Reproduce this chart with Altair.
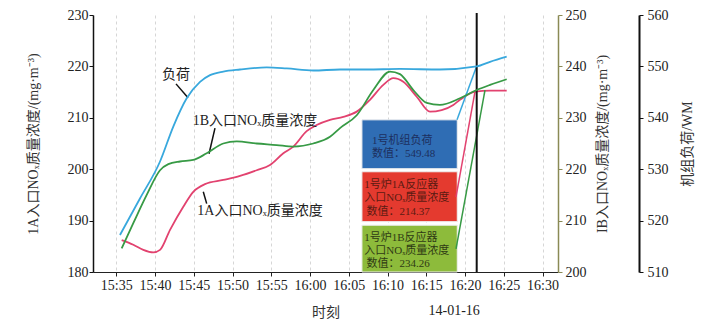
import altair as alt
import pandas as pd

# ---------------- data (time in minutes after 15:00) ----------------
load_t = [35.48, 38.06, 40.65, 42.36, 44.09, 45.81, 47.10, 48.81, 50.97, 54.41,
          57.0, 60.43, 63.87, 67.32, 71.61, 76.77, 81.51, 83.23, 85.38]
load_v = [517.2, 524.3, 531.5, 538.3, 543.8, 547.0, 548.3, 549.0, 549.4, 549.8,
          549.6, 549.2, 549.4, 549.4, 549.5, 549.4, 550.0, 550.9, 551.9]

a_t = [35.70, 37.2, 38.49, 39.78, 40.65, 41.94, 43.65, 44.94, 46.45, 48.81, 50.97,
       53.12, 54.84, 56.56, 57.85, 59.57, 60.86, 62.58, 64.30, 66.03, 67.74, 69.46,
       70.75, 72.04, 73.77, 75.48, 76.99, 78.49, 79.35, 81.29, 83.23, 85.38]
a_v = [186.2, 185.3, 184.3, 183.8, 184.3, 188.2, 192.7, 195.6, 197.1, 197.9, 198.7,
       199.8, 200.8, 203.1, 204.4, 207.4, 208.6, 209.6, 210.2, 211.2, 213.5, 216.4,
       217.7, 217.0, 214.1, 211.2, 211.5, 212.5, 213.5, 215.1, 215.3, 215.3]

b_t = [35.70, 37.2, 38.93, 40.65, 41.72, 43.23, 44.94, 46.67, 48.81, 50.54, 53.12,
       55.70, 57.85, 60.43, 62.58, 63.87, 66.03, 68.17, 70.32, 71.61, 73.33, 75.06,
       76.77, 79.35, 81.51, 83.23, 85.38]
b_v = [204.6, 209.5, 215.0, 219.8, 221.0, 221.5, 221.8, 223.1, 225.0, 225.4, 225.0,
       224.7, 224.4, 225.0, 226.3, 228.0, 230.5, 235.4, 239.0, 238.5, 235.4, 232.9,
       232.5, 233.8, 235.4, 236.4, 237.5]

x_ticks = [35, 40, 45, 50, 55, 60, 65, 70, 75, 80, 85, 90]
cursor_t = 81.51

# info boxes (left-axis units)
box_names = ["load", "A", "B"]
box_x0 = [66.7, 66.7, 66.7]
box_x1 = [79.0, 79.0, 79.0]
box_top = [209.6, 199.5, 189.1]
box_bot = [200.1, 189.8, 180.0]
box_fill = ["#2f6db4", "#e43a2f", "#8dbb3b"]

box_text = ["1号机组负荷", "数值：549.48",
            "1号炉1A反应器", "入口NOₓ质量浓度", "数值：214.37",
            "1号炉1B反应器", "入口NOₓ质量浓度", "数值：234.26"]
box_text_t = [68.0, 68.0, 67.0, 67.0, 67.3, 67.0, 67.0, 67.3]
box_text_v = [205.49, 202.86, 196.93, 194.30, 191.67, 186.71, 184.09, 181.46]
box_text_c = ["#1d2f5e", "#1d2f5e", "#5c1a12", "#5c1a12", "#5c1a12",
              "#2f3a14", "#2f3a14", "#2f3a14"]

# callouts from boxes to cursor values
call_t0 = [78.97, 78.84, 78.84]
call_v0 = [209.6, 194.6, 184.5]
call_t1 = [81.51, 81.29, 82.58]
call_v1 = [220.1, 215.1, 215.4]

# series labels
lab_text = ["负荷", "1B入口NOₓ质量浓度", "1A入口NOₓ质量浓度"]
lab_t = [42.71, 52.9, 53.55]
lab_v = [218.3, 209.4, 191.9]
lead_t0 = [42.71, 47.74, 46.67]
lead_v0 = [216.6, 208.0, 193.3]
lead_t1 = [44.26, 46.97, 46.23]
lead_v1 = [213.9, 203.0, 195.6]

C_LOAD = "#38a8dd"
C_A = "#e2426f"
C_B = "#379a45"
FONT = "'Liberation Serif', 'Noto Sans CJK SC', serif"

# ---------------- charts ----------------
xscale = alt.Scale(domain=[32, 92], nice=False, zero=False)
lab_expr = ("toString(15 + floor(datum.value/60)) + ':' + "
            "(datum.value % 60 < 10 ? '0' : '') + toString(datum.value % 60)")
xaxis = alt.Axis(values=x_ticks, labelExpr=lab_expr, grid=True, gridDash=[3, 3],
                 gridColor="#d6d6d6", gridWidth=1, title="时刻", titleY=40,
                 titleBaseline="middle", titleFont=FONT, titleFontSize=14,
                 titleFontWeight="normal", titleColor="#333", labelFont=FONT,
                 labelFontSize=14, labelColor="#222", domainColor="#222",
                 domainWidth=1.2, tickColor="#222", tickSize=4, labelPadding=2)
X = alt.X("t:Q", scale=xscale, axis=xaxis)
X2 = alt.X2("t1:Q")

yA = alt.Y("v:Q", scale=alt.Scale(domain=[180, 230], nice=False, zero=False),
           axis=alt.Axis(values=[180, 190, 200, 210, 220, 230], grid=False,
                         title="1A入口NOₓ质量浓度/(mg·m⁻³)", titleX=-60, titleY=128.5,
                         titleAngle=270, titleAlign="center", titleBaseline="middle",
                         titleFont=FONT, titleFontSize=14, titleFontWeight="normal",
                         titleColor="#333", labelFont=FONT, labelFontSize=14,
                         labelColor="#222", domainColor="#111", domainWidth=1.5,
                         tickColor="#111", tickSize=4, labelPadding=1))
Y2 = alt.Y2("v1:Q")

dfA = pd.DataFrame({"t": a_t, "v": a_v})
dfB = pd.DataFrame({"t": b_t, "v": b_v})
dfL = pd.DataFrame({"t": load_t, "v": load_v})

red = alt.Chart(dfA).mark_line(color=C_A, strokeWidth=1.8, interpolate="monotone").encode(x=X, y=yA)

boxes = alt.Chart(pd.DataFrame({"t": box_x0, "t1": box_x1, "v": box_top, "v1": box_bot,
                                "c": box_fill})).mark_rect(stroke="#eeeeee", strokeWidth=1).encode(
    x=X, x2=X2, y=yA, y2=Y2, fill=alt.Fill("c:N", scale=None))

btext = alt.Chart(pd.DataFrame({"t": box_text_t, "v": box_text_v, "s": box_text,
                                "c": box_text_c})).mark_text(
    align="left", baseline="middle", font=FONT, fontSize=11).encode(
    x=X, y=yA, text="s:N", color=alt.Color("c:N", scale=None))

calls = alt.Chart(pd.DataFrame({"t": call_t0, "v": call_v0, "t1": call_t1, "v1": call_v1,
                                "c": [C_LOAD, C_A, C_B]})).mark_rule(strokeWidth=1.5).encode(
    x=X, x2=X2, y=yA, y2=Y2, color=alt.Color("c:N", scale=None))

labels = alt.Chart(pd.DataFrame({"t": lab_t, "v": lab_v, "s": lab_text})).mark_text(
    align="center", baseline="middle", font=FONT, fontSize=14, color="#222").encode(
    x=X, y=yA, text="s:N")

leads = alt.Chart(pd.DataFrame({"t": lead_t0, "v": lead_v0, "t1": lead_t1, "v1": lead_v1})).mark_rule(
    color="#111", strokeWidth=1.5).encode(x=X, x2=X2, y=yA, y2=Y2)

cursor = alt.Chart(pd.DataFrame({"t": [cursor_t], "v": [230.4], "v1": [180]})).mark_rule(
    color="#111", strokeWidth=2).encode(x=X, y=yA, y2=Y2)

date_lbl = alt.Chart(pd.DataFrame({"t": [78.6], "s": ["14-01-16"]})).mark_text(
    align="center", baseline="middle", font=FONT, fontSize=14, color="#222").encode(
    x=X, y=alt.value(296), text="s:N")

layerA = alt.layer(red, boxes, btext, calls, labels, leads, cursor, date_lbl)

green = alt.Chart(dfB).mark_line(color=C_B, strokeWidth=1.8, interpolate="monotone").encode(
    x=X,
    y=alt.Y("v:Q", scale=alt.Scale(domain=[200, 250], nice=False, zero=False),
            axis=alt.Axis(orient="right", values=[200, 210, 220, 230, 240, 250], grid=False,
                          title="IB入口NOₓ质量浓度/(mg·m⁻³)", titleX=44, titleY=128.5,
                          titleAngle=270, titleAlign="center", titleBaseline="middle",
                          titleFont=FONT, titleFontSize=14, titleFontWeight="normal",
                          titleColor="#333", labelFont=FONT, labelFontSize=14,
                          labelColor="#222", domainColor="#8a8a55", domainWidth=1.5,
                          tickColor="#8a8a55", tickSize=4, labelPadding=3)))

load = alt.Chart(dfL).mark_line(color=C_LOAD, strokeWidth=1.8, interpolate="monotone").encode(
    x=X,
    y=alt.Y("v:Q", scale=alt.Scale(domain=[510, 560], nice=False, zero=False),
            axis=alt.Axis(orient="right", offset=81, values=[510, 520, 530, 540, 550, 560],
                          grid=False, title="机组负荷/WM", titleX=48, titleY=128.5,
                          titleAngle=270, titleAlign="center", titleBaseline="middle",
                          titleFont=FONT, titleFontSize=14, titleFontWeight="normal",
                          titleColor="#333", labelFont=FONT, labelFontSize=14,
                          labelColor="#222", domainColor="#111", domainWidth=2,
                          tickColor="#111", tickSize=4, labelPadding=4)))

chart = alt.layer(layerA, green, load).resolve_scale(y="independent").properties(
    width=465, height=257,
    padding={"left": 93, "top": 15, "right": 154, "bottom": 55},
    autosize=alt.AutoSizeParams(type="none"),
    background="white",
).configure_view(stroke=None)

chart.save("out.html", embed_options={"renderer": "svg", "actions": False})
